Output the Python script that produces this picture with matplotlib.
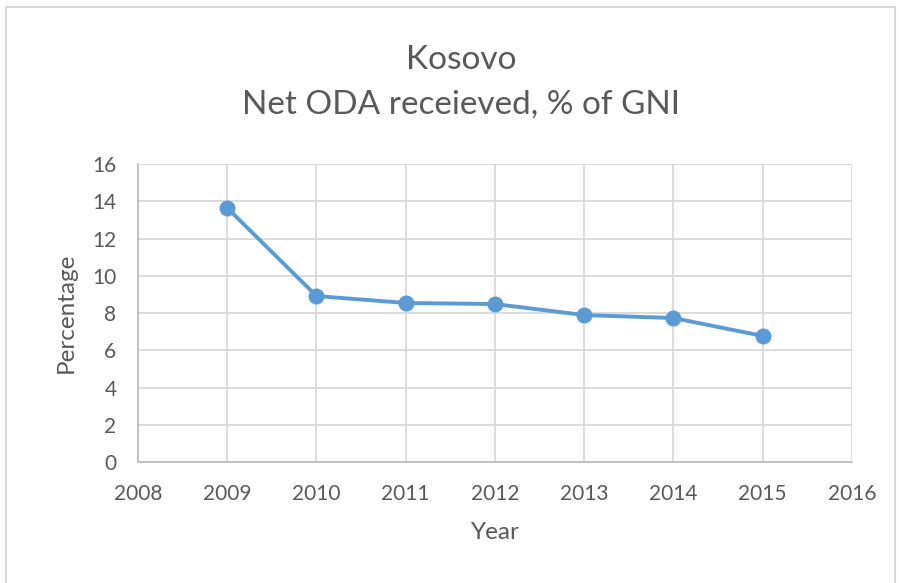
import matplotlib
matplotlib.use("Agg")
import matplotlib.pyplot as plt
from matplotlib.patches import Rectangle

years = [2009, 2010, 2011, 2012, 2013, 2014, 2015]
oda_pct = [13.64, 8.91, 8.54, 8.48, 7.89, 7.73, 6.77]
x_ticks = list(range(2008, 2017))
y_ticks = list(range(0, 17, 2))

plt.rcParams['font.family'] = ['Lato', 'DejaVu Sans']
text_col = '#595959'
grid_col = '#d9d9d9'

fig = plt.figure(figsize=(8.99, 5.83), dpi=100)
ax = fig.add_axes([0.1535, 0.2075, 0.7942, 0.5112])

# outer chart border
fig.patches.append(Rectangle((6 / 899, -0.05), 889 / 899, 1.05 - 7 / 583,
                             transform=fig.transFigure, fill=False,
                             edgecolor=grid_col, linewidth=1.5))

ax.plot(years, oda_pct, color='#5B9BD5', linewidth=2.8, marker='o',
        markersize=10.5, zorder=3)

ax.set_xlim(2008, 2016)
ax.set_ylim(0, 16)
ax.set_xticks(x_ticks)
ax.set_yticks(y_ticks)
ax.grid(True, color=grid_col, linewidth=1.3)
ax.set_axisbelow(True)

for s in ['top', 'right']:
    ax.spines[s].set_visible(False)
for s in ['left', 'bottom']:
    ax.spines[s].set_color('#bfbfbf')
    ax.spines[s].set_linewidth(1.3)

ax.tick_params(length=0, labelsize=15, colors=text_col, pad=15.5)
ax.set_xlabel('Year', fontsize=17.5, color=text_col)
ax.set_ylabel('Percentage', fontsize=17.5, color=text_col)
ax.xaxis.label.set_va('center')
ax.xaxis.set_label_coords(0.5, -0.238)
ax.yaxis.label.set_va('center')
ax.yaxis.label.set_ha('center')
ax.yaxis.set_label_coords(-0.101, 0.5)

fig.text(0.513, 0.897, 'Kosovo', ha='center', va='center', fontsize=24,
         color=text_col)
fig.text(0.513, 0.821, 'Net ODA receieved, % of GNI', ha='center',
         va='center', fontsize=24, color=text_col)

fig.savefig('out.png', dpi=100)
